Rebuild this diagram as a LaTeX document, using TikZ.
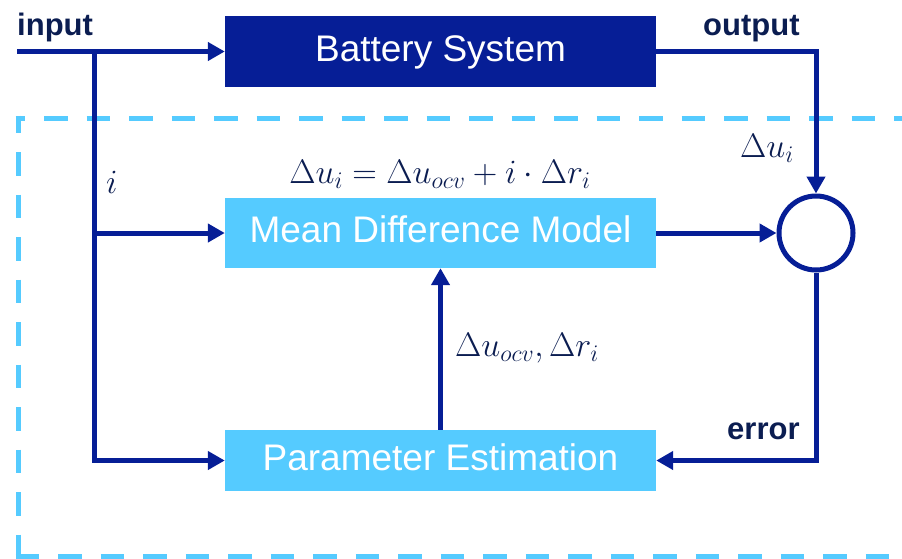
\documentclass[tikz,border=0pt]{standalone}
\usepackage{fix-cm}
\usepackage[no-math]{fontspec}
\setmainfont{Liberation Sans}
\usetikzlibrary{arrows.meta}
\definecolor{navy}{HTML}{061E96}
\definecolor{sky}{HTML}{55CBFF}
\definecolor{ink}{HTML}{0B1D51}
\begin{document}
\begin{tikzpicture}[x=1pt,y=-1pt,
  flow/.style={draw=navy, line width=5pt, -{Triangle[length=17pt,width=18pt]}},
  darkbox/.style={fill=navy, text=white, minimum width=431pt, minimum height=71pt,
    inner sep=0pt, font=\fontsize{37}{41}\selectfont, text height=26pt, text depth=7pt},
  lightbox/.style={darkbox, fill=sky, minimum height=70pt},
  tag/.style={text=ink, font=\fontsize{31}{34}\selectfont\bfseries, inner sep=0pt},
  mathtag/.style={text=ink, font=\fontsize{34}{38}\selectfont, inner sep=0pt},
  frame/.style={draw=sky, line width=5pt, dash pattern=on 23.5pt off 19pt}
]
\useasboundingbox (0,0) rectangle (902,558);

% dashed frame around the estimator (open on the right)
\draw[frame, dash phase=14pt] (15.5,118) -- (905,118);
\draw[frame, dash phase=6pt] (18,115.5) -- (18,560);
\draw[frame] (15.5,556) -- (905,556);

% blocks
\node[darkbox] (bat) at (440.5,51.5) {Battery System};
\node[lightbox] (mdm) at (440.5,233) {Mean Difference Model};
\node[lightbox, minimum height=61pt] (pe) at (440.5,460.5) {Parameter Estimation};
\node[circle, draw=navy, line width=5pt, minimum size=74pt, inner sep=0pt] (sum) at (816,233) {};

% signal routing
\coordinate (in) at (17,51.5);
\coordinate (split) at (94,51.5);
\draw[flow] (in) -- (bat.west);
\draw[flow] (split) |- (pe.west);
\draw[flow] (split |- mdm.west) -- (mdm.west);
\draw[flow] (bat.east) -| (sum.north);
\draw[flow] (mdm.east) -- (sum.west);
\draw[flow] (sum.south) |- (pe.east);
\draw[flow] (pe.north) -- (mdm.south);

% labels
\node[tag, anchor=base west] (lin) at (17,35) {input};
\node[tag, anchor=base west] (lout) at (703,35) {output};
\node[tag, anchor=base west] (lerr) at (727,439) {error};
\node[mathtag, anchor=base west] (li) at (106,193) {$i$};
\node[mathtag, anchor=base west] (ldu) at (740,157) {$\Delta u_i$};
\node[mathtag, anchor=base] (leq) at (440,183) {$\Delta u_i = \Delta u_{ocv} + i \cdot \Delta r_i$};
\node[mathtag, anchor=base west] (lpar) at (455,356) {$\Delta u_{ocv},\Delta r_i$};
\end{tikzpicture}
\end{document}
